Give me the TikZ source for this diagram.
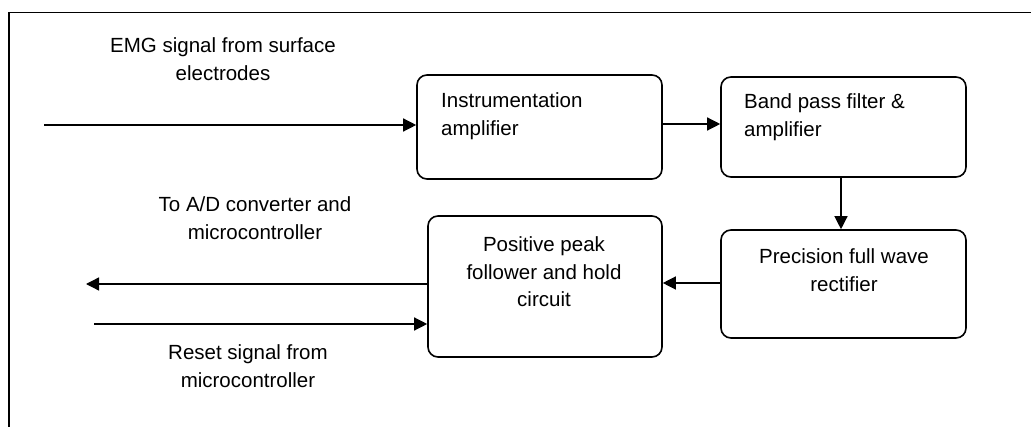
\documentclass[tikz,border=0pt]{standalone}
\usepackage{fontspec}
\setmainfont{Liberation Sans}
\usepackage{tikz}
\usetikzlibrary{arrows.meta}
\tikzset{
block/.style={
  draw,
  rectangle,
  rounded corners=10pt,
  line width=1.6pt
},
boxtext/.style={align=left,inner sep=0pt},
caption/.style={align=center,inner sep=0pt},
flow/.style={line width=1.3pt,-{Triangle[length=13pt,width=13pt]}},
}

\begin{document}
\begin{tikzpicture}[x=1pt,y=-1pt,font=\fontsize{20.5pt}{27.5pt}\selectfont]
\useasboundingbox (0,0) rectangle (1031,427);
% the outer frame
\draw[line width=1.8pt] (9,427) -- (9,12.5) -- (1031,12.5);
% the blocks
\node[block,minimum width=245pt,minimum height=104pt] (instr) at (539.5,127) {};
\node[block,minimum width=245pt,minimum height=100pt] (band) at (843.5,127) {};
\node[block,minimum width=245pt,minimum height=108pt] (prec) at (843.5,284) {};
\node[block,minimum width=234pt,minimum height=141pt] (peak) at (545,286.5) {};
% the block texts
\node[boxtext,anchor=west] (instrtext) at (441,116) {Instrumentation\\amplifier};
\node[boxtext,anchor=west] (bandtext) at (744,117) {Band pass filter \&\\amplifier};
\node[caption] (prectext) at (844,270) {Precision full wave\\rectifier};
\node[caption] (peaktext) at (544,272) {Positive peak\\follower and hold\\circuit};
% the signal captions
\node[caption] (emglabel) at (223,59) {EMG signal from surface\\electrodes};
\node[caption] (adlabel) at (255,218) {To A/D converter and\\microcontroller};
\node[caption] (resetlabel) at (248,366) {Reset signal from\\microcontroller};
% free ends of the outside signals
\coordinate (emgin) at (44,125);
\coordinate (adout) at (86,284);
\coordinate (resetin) at (94,324);
% the arrows
\draw[flow] (emgin) -- (emgin -| instr.west);
\draw[flow] ([yshift=3pt]instr.east) -- ([yshift=3pt]band.west);
\draw[flow] ([xshift=-2.5pt]band.south) -- ([xshift=-2.5pt]prec.north);
\draw[flow] ([yshift=1pt]prec.west) -- ([yshift=1pt]prec.west -| peak.east);
\draw[flow] (adout -| peak.west) -- (adout);
\draw[flow] (resetin) -- (resetin -| peak.west);
\end{tikzpicture}
\end{document}
